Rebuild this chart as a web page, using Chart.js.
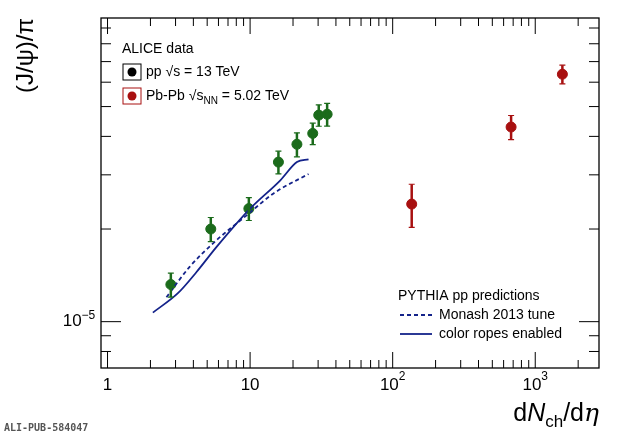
<!DOCTYPE html>
<html>
<head>
<meta charset="utf-8">
<script src="https://cdn.jsdelivr.net/npm/chart.js@4.4.0/dist/chart.umd.min.js"></script>
<style>
  html, body { margin: 0; padding: 0; background: #fff; }
  #wrap { width: 620px; height: 436px; }
</style>
</head>
<body>
<div id="wrap"><canvas id="c" width="620" height="436"></canvas></div>
<script>
// pp 13 TeV
const ppX   = [2.78, 5.3, 9.8, 15.8, 21.3, 27.5, 30.3, 34.7];
const ppY   = [1.32e-5, 2.0e-5, 2.33e-5, 3.3e-5, 3.77e-5, 4.09e-5, 4.69e-5, 4.72e-5];
const ppErr = [0.09, 0.09, 0.085, 0.085, 0.09, 0.08, 0.08, 0.085];
// Pb-Pb 5.02 TeV
const pbX   = [136, 677, 1550];
const pbY   = [2.41e-5, 4.29e-5, 6.37e-5];
const pbErr = [0.16, 0.09, 0.07];
// PYTHIA
const ropesX  = [2.08, 3.13, 4.21, 5.82, 10, 16.3, 21.3, 25.7];
const ropesY  = [1.07e-5, 1.24e-5, 1.45e-5, 1.75e-5, 2.33e-5, 2.88e-5, 3.3e-5, 3.37e-5];
const monashX = [2.59, 3.78, 5.82, 9.5, 14.6, 25.7];
const monashY = [1.2e-5, 1.51e-5, 1.84e-5, 2.22e-5, 2.61e-5, 3.02e-5];

const green = '#1b6b1b', red = '#a81010', blue = '#14238a';
const pts = (xs, ys) => xs.map((x, i) => ({ x: x, y: ys[i] }));

// error bars, ROOT-style frame and ticks, labels, legends
const decor = {
  id: 'decor',
  afterDatasetsDraw(chart) {
    const ctx = chart.ctx, xs = chart.scales.x, ys = chart.scales.y, a = chart.chartArea;
    ctx.save();
    // error bars
    function bars(xv, yv, ev, col) {
      ctx.strokeStyle = col; ctx.lineWidth = 2.5;
      xv.forEach((x, i) => {
        const px = xs.getPixelForValue(x);
        const t = ys.getPixelForValue(yv[i] * (1 + ev[i]));
        const b = ys.getPixelForValue(yv[i] * (1 - ev[i]));
        ctx.beginPath(); ctx.moveTo(px, t); ctx.lineTo(px, b); ctx.stroke();
        ctx.lineWidth = 1.2;
        ctx.beginPath(); ctx.moveTo(px - 3, t); ctx.lineTo(px + 3, t);
        ctx.moveTo(px - 3, b); ctx.lineTo(px + 3, b); ctx.stroke();
        ctx.lineWidth = 2.5;
      });
    }
    bars(ppX, ppY, ppErr, green);
    bars(pbX, pbY, pbErr, red);

    // frame
    ctx.strokeStyle = '#000'; ctx.lineWidth = 1.3;
    ctx.strokeRect(a.left, a.top, a.right - a.left, a.bottom - a.top);
    // x ticks
    ctx.lineWidth = 1;
    for (let d = 1; d <= 1000; d *= 10) {
      for (let m = 1; m <= 9; m++) {
        const v = d * m;
        if (v < xs.min || v > xs.max) continue;
        const px = xs.getPixelForValue(v), L = m === 1 ? 16 : 8;
        ctx.beginPath(); ctx.moveTo(px, a.bottom); ctx.lineTo(px, a.bottom - L);
        ctx.moveTo(px, a.top); ctx.lineTo(px, a.top + L); ctx.stroke();
      }
    }
    // y ticks
    for (let d = 1e-6; d <= 1e-4; d *= 10) {
      for (let m = 1; m <= 9; m++) {
        const v = d * m;
        if (v < ys.min || v > ys.max) continue;
        const py = ys.getPixelForValue(v), L = m === 1 ? 20 : 10;
        ctx.beginPath(); ctx.moveTo(a.left, py); ctx.lineTo(a.left + L, py);
        ctx.moveTo(a.right, py); ctx.lineTo(a.right - L, py); ctx.stroke();
      }
    }
    // tick labels
    ctx.fillStyle = '#000';
    ctx.font = '17px "Liberation Sans", Arial, sans-serif';
    ctx.textAlign = 'center'; ctx.textBaseline = 'top';
    ctx.fillText('1', xs.getPixelForValue(1), a.bottom + 9);
    ctx.fillText('10', xs.getPixelForValue(10), a.bottom + 9);
    function pow(txt, exp, x, y) {
      ctx.font = '17px "Liberation Sans", Arial, sans-serif';
      const w1 = ctx.measureText(txt).width;
      ctx.font = '12px "Liberation Sans", Arial, sans-serif';
      const w2 = ctx.measureText(exp).width;
      const x0 = x - (w1 + w2) / 2;
      ctx.textAlign = 'left';
      ctx.font = '17px "Liberation Sans", Arial, sans-serif';
      ctx.fillText(txt, x0, y);
      ctx.font = '12px "Liberation Sans", Arial, sans-serif';
      ctx.fillText(exp, x0 + w1, y - 6);
      ctx.textAlign = 'center';
    }
    pow('10', '2', xs.getPixelForValue(100), a.bottom + 9);
    pow('10', '3', xs.getPixelForValue(1000), a.bottom + 9);
    ctx.textBaseline = 'middle';
    pow('10', '\u22125', a.left - 22, ys.getPixelForValue(1e-5));

    // axis titles
    ctx.textAlign = 'right'; ctx.textBaseline = 'alphabetic';
    let x = a.right;
    const yT = 421;
    const parts = [['\u03B7', 'italic 25px "DejaVu Serif", serif', 0], ['/d', '25px "Liberation Sans", Arial, sans-serif', 0],
                   ['ch', '17px "Liberation Sans", Arial, sans-serif', 6], ['N', 'italic 25px "Liberation Sans", Arial, sans-serif', 0],
                   ['d', '25px "Liberation Sans", Arial, sans-serif', 0]];
    parts.forEach(p => { ctx.font = p[1]; ctx.fillText(p[0], x, yT + p[2]); x -= ctx.measureText(p[0]).width; });
    ctx.save();
    ctx.translate(33, a.top); ctx.rotate(-Math.PI / 2);
    ctx.font = '24px "Liberation Sans", Arial, sans-serif';
    ctx.textAlign = 'right'; ctx.textBaseline = 'alphabetic';
    ctx.fillText('(J/\u03C8)/\u03C0', 0, 0);
    ctx.restore();

    // legend top-left
    ctx.textAlign = 'left'; ctx.textBaseline = 'middle';
    ctx.font = '14px "Liberation Sans", Arial, sans-serif';
    ctx.fillText('ALICE data', 122, 49);
    ctx.lineWidth = 1; ctx.strokeStyle = '#000';
    ctx.strokeRect(123, 64, 18, 16);
    ctx.fillStyle = '#000'; ctx.beginPath(); ctx.arc(132, 72, 4.5, 0, 7); ctx.fill();
    ctx.fillText('pp \u221As = 13 TeV', 146, 72);
    ctx.strokeStyle = red; ctx.strokeRect(123, 88, 18, 16);
    ctx.fillStyle = red; ctx.beginPath(); ctx.arc(132, 96, 4.5, 0, 7); ctx.fill();
    ctx.fillStyle = '#000';
    ctx.fillText('Pb-Pb \u221As', 146, 96);
    let w = ctx.measureText('Pb-Pb \u221As').width;
    ctx.font = '10px "Liberation Sans", Arial, sans-serif';
    ctx.fillText('NN', 146 + w, 101);
    w += ctx.measureText('NN').width;
    ctx.font = '14px "Liberation Sans", Arial, sans-serif';
    ctx.fillText(' = 5.02 TeV', 146 + w, 96);

    // legend bottom-right
    ctx.fillText('PYTHIA pp predictions', 398, 296);
    ctx.fillText('Monash 2013 tune', 439, 315);
    ctx.fillText('color ropes enabled', 439, 334);
    ctx.strokeStyle = blue; ctx.lineWidth = 1.8;
    ctx.setLineDash([4, 3]);
    ctx.beginPath(); ctx.moveTo(400, 315); ctx.lineTo(432, 315); ctx.stroke();
    ctx.setLineDash([]);
    ctx.beginPath(); ctx.moveTo(400, 334); ctx.lineTo(432, 334); ctx.stroke();
    ctx.restore();

    ctx.save();
    ctx.font = 'bold 10px "DejaVu Sans Mono", monospace';
    ctx.fillStyle = '#555'; ctx.textBaseline = 'alphabetic';
    ctx.fillText('ALI-PUB-584047', 4, 431);
    ctx.restore();
  }
};

new Chart(document.getElementById('c'), {
  type: 'scatter',
  data: {
    datasets: [
      { data: pts(monashX, monashY), showLine: true, borderColor: blue, borderWidth: 1.8, borderDash: [4, 3], pointRadius: 0, cubicInterpolationMode: 'monotone' },
      { data: pts(ropesX, ropesY), showLine: true, borderColor: blue, borderWidth: 1.8, pointRadius: 0, cubicInterpolationMode: 'monotone' },
      { data: pts(ppX, ppY), backgroundColor: green, borderColor: green, pointRadius: 5 },
      { data: pts(pbX, pbY), backgroundColor: red, borderColor: red, pointRadius: 5 }
    ]
  },
  options: {
    responsive: false,
    animation: false,
    layout: { padding: { left: 101, right: 21, top: 18, bottom: 68 } },
    plugins: { legend: { display: false }, tooltip: { enabled: false } },
    scales: {
      x: { type: 'logarithmic', min: 0.9, max: 2800, display: false },
      y: { type: 'logarithmic', min: 7.07e-6, max: 9.7e-5, display: false }
    }
  },
  plugins: [decor]
});
</script>
</body>
</html>
